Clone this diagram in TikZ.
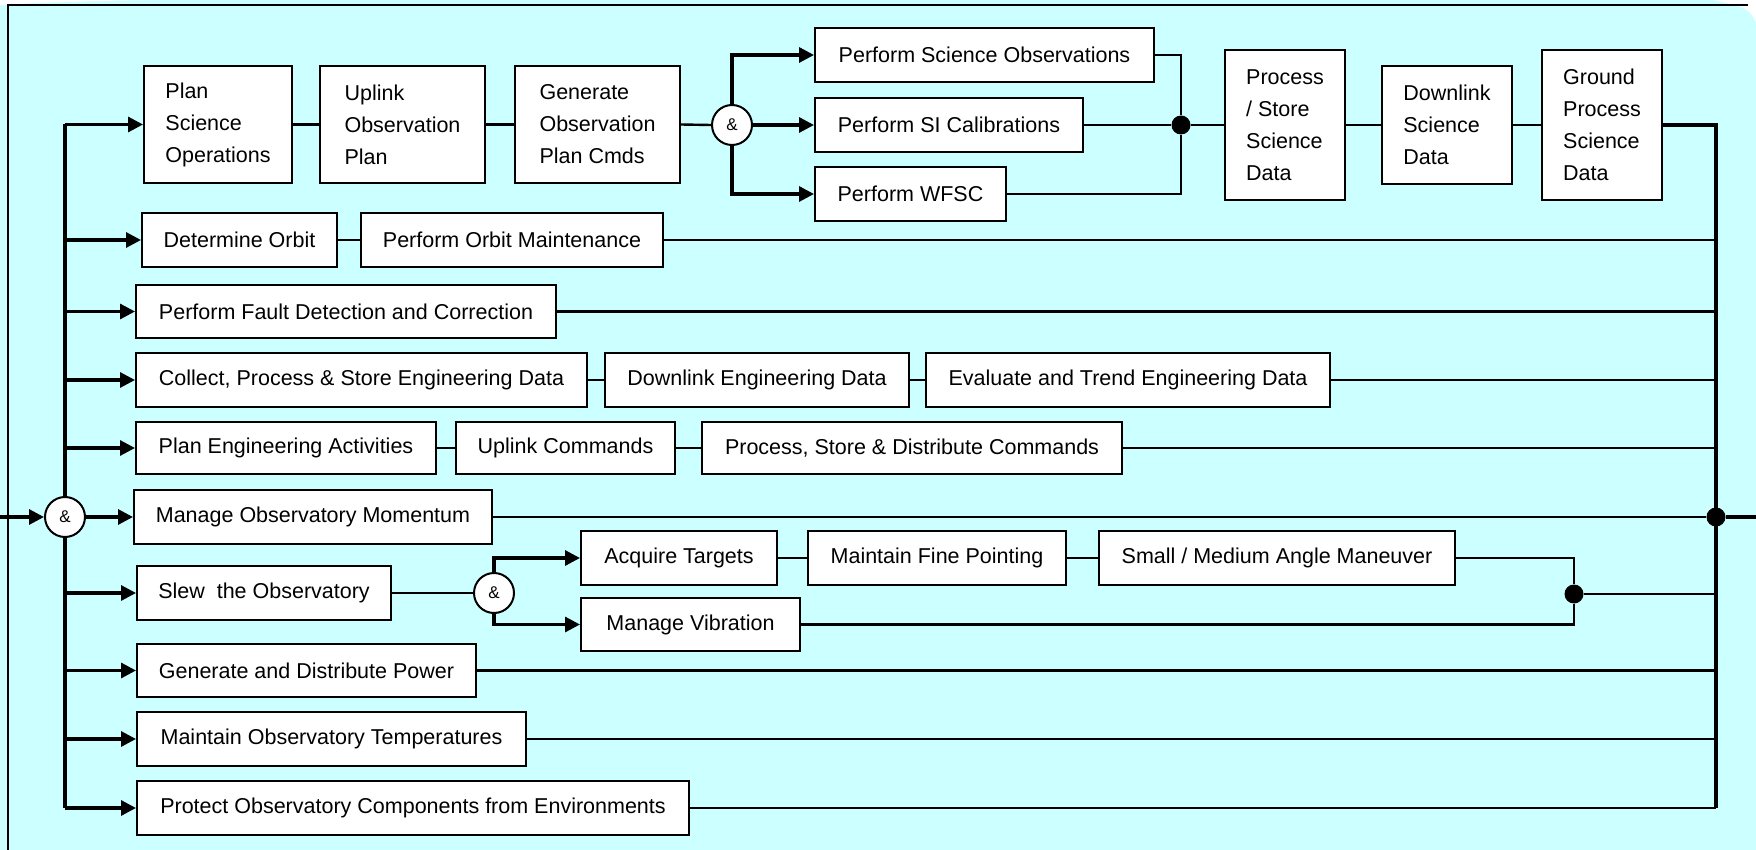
\documentclass[tikz,border=0pt]{standalone}
\usepackage{fontspec}
\setmainfont{Liberation Sans}
\usetikzlibrary{arrows.meta}
\definecolor{bgc}{RGB}{204,255,255}
\newcommand\bx[7][box]{\node[#1, minimum width={(#5-#3)*1pt}, minimum height={(#6-#4)*1pt}] (#2) at ({(#3+#5)/2},{(#4+#6)/2}) {#7};}
\begin{document}
\begin{tikzpicture}[x=1pt,y=-1pt,
 box/.style={draw, fill=white, line width=2pt, inner sep=0pt, font=\fontsize{21.5}{32}\selectfont, align=center},
 mbox/.style={box, align=left},
 ln/.style={line width=2.4pt},
 bl/.style={line width=3.2pt},
 arr/.style={line width=3.2pt, -{Triangle[length=15pt,width=15pt]}},
 dotn/.style={circle, fill=black, minimum size=19pt, inner sep=0pt},
 andn/.style={circle, draw, fill=white, line width=2pt, minimum size=40pt, inner sep=0pt, font=\fontsize{17}{17}\selectfont}]
\useasboundingbox (0,0) rectangle (1756,850);
\fill[bgc] (0,0) rectangle (1756,850);
\fill[white] (0,0) -- (150,0) .. controls (60,2) .. (0,5) -- cycle;
\fill[white] (1713,0) -- (1756,0) -- (1756,22) .. controls (1748,8) .. (1713,0) -- cycle;
\draw[line width=2.6pt] (8,850) -- (8,5) -- (1748,5);

\coordinate (bus) at (65,0);
\coordinate (rb) at (1716,0);
\coordinate (in) at (0,517);
\coordinate (out) at (1756,517);

% boxes
\bx[mbox]{psops}{144}{66}{292}{183}{Plan\\Science\\Operations}
\bx[mbox]{uop}{320}{66}{485}{183}{Uplink\\Observation\\Plan}
\bx[mbox]{gopc}{515}{66}{680}{183}{Generate\\Observation\\Plan Cmds}
\node[andn] (a1) at (732,125) {\&};
\bx{pso}{815}{28}{1154}{82}{Perform Science Observations}
\bx{sic}{815}{98}{1083}{152}{Perform SI Calibrations}
\bx{wfsc}{815}{167}{1006}{221}{Perform WFSC}
\node[dotn] (j1) at (1181,125) {};
\bx[mbox]{pssd}{1225}{50}{1345}{200}{Process\\/ Store\\Science\\Data}
\bx[mbox]{dsd}{1382}{66}{1512}{184}{Downlink\\Science\\Data}
\bx[mbox]{gpsd}{1542}{50}{1662}{200}{Ground\\Process\\Science\\Data}

\bx{dorb}{142}{213}{337}{267}{Determine Orbit}
\bx{pom}{361}{213}{663}{267}{Perform Orbit Maintenance}
\bx{fdc}{136}{285}{556}{338}{Perform Fault Detection and Correction}
\bx{cpse}{136}{353}{587}{407}{Collect, Process \& Store Engineering Data}
\bx{dle}{605}{353}{909}{407}{Downlink Engineering Data}
\bx{ete}{926}{353}{1330}{407}{Evaluate and Trend Engineering Data}
\bx{pea}{136}{422}{436}{474}{Plan Engineering Activities}
\bx{upc}{456}{422}{675}{474}{Uplink Commands}
\bx{psdc}{702}{422}{1122}{474}{Process, Store \& Distribute Commands}
\node[andn] (a0) at (65,517) {\&};
\bx{mom}{134}{490}{492}{544}{Manage Observatory Momentum}
\node[dotn] (j3) at (1716,517) {};
\bx{slew}{137}{566}{391}{620}{Slew\ \ the Observatory}
\node[andn] (a2) at (494,593) {\&};
\bx{acq}{581}{531}{777}{585}{Acquire Targets}
\bx{mfp}{808}{531}{1066}{585}{Maintain Fine Pointing}
\bx{sma}{1099}{531}{1455}{585}{Small / Medium Angle Maneuver}
\bx{mvib}{581}{598}{800}{651}{Manage Vibration}
\node[dotn] (j2) at (1574,594) {};
\bx{gdp}{137}{644}{476}{697}{Generate and Distribute Power}
\bx{mot}{137}{712}{526}{766}{Maintain Observatory Temperatures}
\bx{poc}{137}{781}{689}{835}{Protect Observatory Components from Environments}

% left bus
\draw[arr] (in) -- (a0.west);
\draw[bl] (a0.north) -- (psops.west -| bus);
\draw[bl] (a0.south) -- (poc.west -| bus);
\draw[arr] (psops.west -| bus) -- (psops.west);
\draw[arr] (dorb.west -| bus) -- (dorb.west);
\draw[arr] (fdc.west -| bus) -- (fdc.west);
\draw[arr] (cpse.west -| bus) -- (cpse.west);
\draw[arr] (pea.west -| bus) -- (pea.west);
\draw[arr] (a0.east) -- (mom.west);
\draw[arr] (slew.west -| bus) -- (slew.west);
\draw[arr] (gdp.west -| bus) -- (gdp.west);
\draw[arr] (mot.west -| bus) -- (mot.west);
\draw[arr] (poc.west -| bus) -- (poc.west);

% row 1
\draw[ln] (psops.east) -- (uop.west);
\draw[ln] (uop.east) -- (gopc.west);
\draw[ln] (gopc.east) -- (a1.west);
\draw[arr] (a1.north) |- (pso.west);
\draw[arr] (a1.east) -- (sic.west);
\draw[arr] (a1.south) |- (wfsc.west);
\draw[ln] (pso.east) -| (j1);
\draw[ln] (wfsc.east) -| (j1);
\draw[ln] (sic.east) -- (j1);
\draw[ln] (j1) -- (pssd.west);
\draw[ln] (pssd.east) -- (dsd.west);
\draw[ln] (dsd.east) -- (gpsd.west);

% right bus
\draw[bl] (gpsd.east) -| (poc.east -| rb);
\draw[ln] (poc.east) -- (poc.east -| rb);

% rows
\draw[ln] (dorb.east) -- (pom.west);
\draw[ln] (pom.east) -- (pom.east -| rb);
\draw[ln] (fdc.east) -- (fdc.east -| rb);
\draw[ln] (cpse.east) -- (dle.west);
\draw[ln] (dle.east) -- (ete.west);
\draw[ln] (ete.east) -- (ete.east -| rb);
\draw[ln] (pea.east) -- (upc.west);
\draw[ln] (upc.east) -- (psdc.west);
\draw[ln] (psdc.east) -- (psdc.east -| rb);
\draw[ln] (mom.east) -- (j3);
\draw[bl] (j3) -- (out);
\draw[ln] (slew.east) -- (a2.west);
\draw[arr] (a2.north) |- (acq.west);
\draw[arr] (a2.south) |- (mvib.west);
\draw[ln] (acq.east) -- (mfp.west);
\draw[ln] (mfp.east) -- (sma.west);
\draw[ln] (sma.east) -| (j2);
\draw[ln] (mvib.east) -| (j2);
\draw[ln] (j2) -- (j2 -| rb);
\draw[ln] (gdp.east) -- (gdp.east -| rb);
\draw[ln] (mot.east) -- (mot.east -| rb);
\end{tikzpicture}
\end{document}
